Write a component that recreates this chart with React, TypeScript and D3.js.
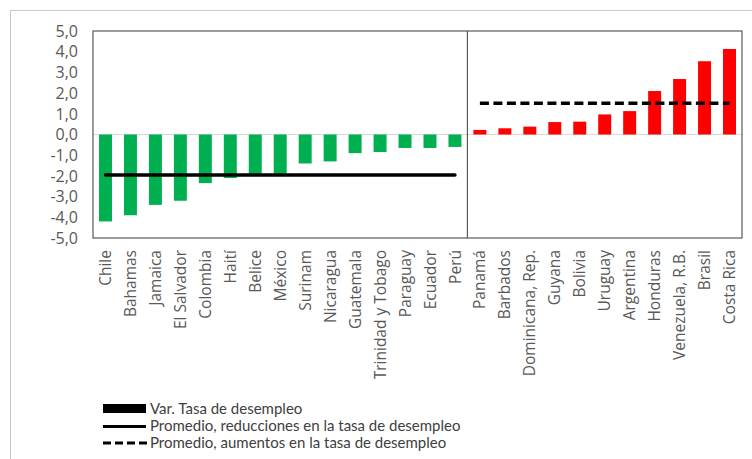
import React from "react";
import * as d3 from "d3";

const categories = [
  "Chile", "Bahamas", "Jamaica", "El Salvador", "Colombia", "Haití", "Belice", "México",
  "Surinam", "Nicaragua", "Guatemala", "Trinidad y Tobago", "Paraguay", "Ecuador", "Perú",
  "Panamá", "Barbados", "Dominicana, Rep.", "Guyana", "Bolivia", "Uruguay", "Argentina",
  "Honduras", "Venezuela, R.B.", "Brasil", "Costa Rica",
];
const varTasa = [
  -4.2, -3.9, -3.4, -3.2, -2.35, -2.1, -1.9, -1.9,
  -1.4, -1.3, -0.9, -0.85, -0.65, -0.65, -0.6,
  0.22, 0.3, 0.38, 0.6, 0.62, 0.97, 1.13,
  2.1, 2.68, 3.54, 4.13,
];
const yTicks = [5, 4, 3, 2, 1, 0, -1, -2, -3, -4, -5];
const legendLabels = [
  "Var. Tasa de desempleo",
  "Promedio, reducciones en la tasa de desempleo",
  "Promedio, aumentos en la tasa de desempleo",
];

const W = 752;
const H = 459;
const plot = { left: 93, right: 742, top: 31, bottom: 238 };

export default function App() {
  const x = d3.scaleBand<string>().domain(categories).range([plot.left, plot.right]).paddingInner(0.48).paddingOuter(0.24);
  const y = d3.scaleLinear().domain([-5, 5]).range([plot.bottom, plot.top]);
  const fmt = (v: number) => d3.format(".1f")(v).replace(".", ",").replace("−", "-");

  const neg = categories.filter((_, i) => varTasa[i] < 0);
  const pos = categories.filter((_, i) => varTasa[i] > 0);
  const avgNeg = d3.mean(varTasa.filter((v) => v < 0)) as number;
  const avgPos = d3.mean(varTasa.filter((v) => v > 0)) as number;
  const center = (c: string) => (x(c) as number) + x.bandwidth() / 2;
  const step = x.step();
  const dividerX = plot.left + neg.length * step;

  const line = d3.line<[number, number]>().x((d) => d[0]).y((d) => d[1]);

  return (
    <svg width={W} height={H} style={{ position: "absolute", left: 0, top: 0, background: "#fff" }}>
      <rect x={10.5} y={10.5} width={W + 20} height={H + 20} fill="#fff" stroke="#c8c8c8" strokeWidth={1} />
      {/* zero gridline */}
      <line x1={plot.left} x2={plot.right} y1={y(0)} y2={y(0)} stroke="#d9d9d9" strokeWidth={1.2} />
      {/* bars */}
      {categories.map((c, i) => {
        const v = varTasa[i];
        return (
          <rect
            key={c}
            x={x(c)}
            y={y(Math.max(0, v))}
            width={x.bandwidth()}
            height={Math.abs(y(v) - y(0))}
            fill={v < 0 ? "#00b050" : "#ff0000"}
          />
        );
      })}
      {/* averages */}
      <path
        d={line([[center(neg[0]), y(avgNeg)], [center(neg[neg.length - 1]), y(avgNeg)]]) as string}
        stroke="#000"
        strokeWidth={3.5}
        strokeLinecap="round"
        fill="none"
      />
      <path
        d={line([[center(pos[0]), y(avgPos)], [center(pos[pos.length - 1]), y(avgPos)]]) as string}
        stroke="#000"
        strokeWidth={3.5}
        strokeDasharray="9,4.5"
        fill="none"
      />
      {/* plot frame and divider */}
      <rect x={plot.left} y={plot.top} width={plot.right - plot.left} height={plot.bottom - plot.top} fill="none" stroke="#595959" strokeWidth={1.2} />
      <line x1={dividerX} x2={dividerX} y1={plot.top} y2={plot.bottom} stroke="#595959" strokeWidth={1.2} />
      {/* y axis labels */}
      {yTicks.map((t) => (
        <text key={t} x={78} y={y(t)} dy="0.36em" textAnchor="end" fontFamily="Open Sans" fontSize={16} fill="#595959">
          {fmt(t)}
        </text>
      ))}
      {/* category labels */}
      {categories.map((c) => (
        <text
          key={c}
          transform={`translate(${center(c)},${250}) rotate(-90)`}
          dy="0.36em"
          textAnchor="end"
          fontFamily="Open Sans"
          fontSize={15.5}
          fill="#595959"
        >
          {c}
        </text>
      ))}
      {/* legend */}
      <g fontFamily="Lato" fontSize={15} fill="#404040">
        <rect x={103} y={404} width={43} height={9} fill="#000" />
        <text x={150} y={409} dy="0.35em">{legendLabels[0]}</text>
        <line x1={103} x2={146} y1={426.5} y2={426.5} stroke="#000" strokeWidth={3} />
        <text x={150} y={426} dy="0.35em">{legendLabels[1]}</text>
        <line x1={103} x2={149} y1={443} y2={443} stroke="#000" strokeWidth={3} strokeDasharray="8,4" />
        <text x={150} y={443} dy="0.35em">{legendLabels[2]}</text>
      </g>
    </svg>
  );
}
